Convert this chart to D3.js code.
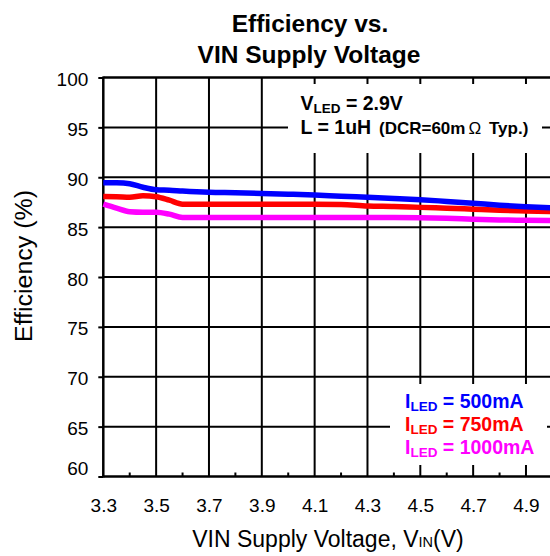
<!DOCTYPE html>
<html>
<head>
<meta charset="utf-8">
<script src="https://cdn.jsdelivr.net/npm/d3@7"></script>
<style>
  html, body { margin: 0; padding: 0; background: #fff; }
  svg { display: block; font-family: "Liberation Sans", Arial, sans-serif; }
</style>
</head>
<body>
<svg id="chart" width="550" height="556"></svg>
<script>
// Supply voltage samples (V)
const vin = [3.3, 3.35, 3.4, 3.45, 3.5, 3.55, 3.6, 3.7, 3.8, 3.9, 4.0, 4.1, 4.2, 4.3, 4.4, 4.5, 4.6, 4.7, 4.8, 4.9, 5.0];
// Efficiency (%) for each LED current
const eff500 = [89.46, 89.45, 89.35, 89.0, 88.75, 88.7, 88.62, 88.5, 88.45, 88.38, 88.3, 88.22, 88.1, 88.0, 87.88, 87.75, 87.58, 87.4, 87.2, 87.05, 86.93];
const eff750 = [88.06, 88.05, 88.0, 88.15, 88.05, 87.7, 87.3, 87.3, 87.3, 87.3, 87.3, 87.3, 87.28, 87.12, 87.07, 86.98, 86.9, 86.8, 86.7, 86.62, 86.55];
const eff1000 = [87.3, 86.9, 86.55, 86.5, 86.5, 86.3, 85.97, 85.97, 85.97, 85.97, 85.97, 85.97, 85.97, 85.97, 85.97, 85.95, 85.9, 85.8, 85.72, 85.68, 85.65];

const seriesNames = ["500mA", "750mA", "1000mA"];
const seriesColors = ["#0000ff", "#ff0000", "#ff00ff"];

const xTicks = [3.3, 3.5, 3.7, 3.9, 4.1, 4.3, 4.5, 4.7, 4.9];
const xMinorTicks = [3.4, 3.6, 3.8, 4.0, 4.2, 4.4, 4.6, 4.8];
const yTicks = [60, 65, 70, 75, 80, 85, 90, 95, 100];

const svg = d3.select("#chart");

const x = d3.scaleLinear().domain([3.3, 5.0]).range([103.3, 552.4]);
const y = d3.scaleLinear().domain([60, 100]).range([476.5, 77.5]);

// Title
const title = svg.append("text").attr("text-anchor", "middle")
  .attr("font-weight", "bold").attr("font-size", 24.5).attr("fill", "#000");
title.append("tspan").attr("x", 310).attr("y", 32).text("Efficiency vs.");
title.append("tspan").attr("x", 309).attr("y", 63).text("VIN Supply Voltage");

// Grid
const grid = svg.append("g").attr("stroke", "#000").attr("stroke-width", 2);
grid.selectAll("line.h").data(yTicks.filter(d => d > 60 && d < 100)).join("line")
  .attr("x1", x(3.3)).attr("x2", x(5.0))
  .attr("y1", d => y(d)).attr("y2", d => y(d));
grid.selectAll("line.v").data(xTicks.filter(d => d > 3.3)).join("line")
  .attr("x1", d => x(d)).attr("x2", d => x(d))
  .attr("y1", y(100)).attr("y2", y(60));

// Minor ticks on the bottom axis
grid.selectAll("line.m").data(xMinorTicks).join("line")
  .attr("x1", d => x(d)).attr("x2", d => x(d))
  .attr("y1", y(60)).attr("y2", y(60) - 4);

// Axes / frame
const yAxis = d3.axisLeft(y).tickValues(yTicks).tickSize(5).tickFormat(d3.format("d"));
const yG = svg.append("g").attr("transform", `translate(${x(3.3)},0)`).call(yAxis);
yG.select(".domain").remove();
yG.selectAll(".tick line").attr("stroke", "#000").attr("stroke-width", 2);
yG.selectAll(".tick text").attr("font-size", 19).attr("font-family", "Liberation Sans, Arial, sans-serif")
  .attr("x", -15).attr("fill", "#000")
  .attr("y", d => d === 60 ? -8 : 2);

const xAxis = d3.axisBottom(x).tickValues(xTicks).tickSize(0).tickFormat(d3.format(".1f"));
const xG = svg.append("g").attr("transform", `translate(0,${y(60)})`).call(xAxis);
xG.select(".domain").remove();
xG.selectAll(".tick text").attr("font-size", 19).attr("font-family", "Liberation Sans, Arial, sans-serif")
  .attr("y", 22.5).attr("dy", "0.71em").attr("fill", "#000");

svg.append("line").attr("x1", x(3.3)).attr("x2", x(3.3)).attr("y1", y(100) - 1).attr("y2", y(60) + 1)
  .attr("stroke", "#000").attr("stroke-width", 2.5);
svg.append("line").attr("x1", x(3.3)).attr("x2", x(5.0)).attr("y1", y(60)).attr("y2", y(60))
  .attr("stroke", "#000").attr("stroke-width", 2.5);
svg.append("line").attr("x1", x(3.3)).attr("x2", x(5.0)).attr("y1", y(100)).attr("y2", y(100))
  .attr("stroke", "#000").attr("stroke-width", 2.5);

// Annotation panel
svg.append("rect").attr("x", 288).attr("y", 84).attr("width", 254).attr("height", 69).attr("fill", "#fff");
const note1 = svg.append("text").attr("x", 300.5).attr("y", 110).attr("font-weight", "bold").attr("font-size", 19.5);
note1.append("tspan").text("V");
note1.append("tspan").attr("font-size", 13.5).attr("dy", 3).text("LED");
note1.append("tspan").attr("dy", -3).text(" = 2.9V");
const note2 = svg.append("text").attr("y", 134).attr("font-weight", "bold").attr("font-size", 19.5);
note2.append("tspan").attr("x", 300.5).text("L = 1uH");
note2.append("tspan").attr("x", 379).attr("font-size", 17).text("(DCR=60m");
note2.append("tspan").attr("x", 468.5).attr("font-size", 17).attr("font-weight", "normal").text("Ω");
note2.append("tspan").attr("x", 489).attr("font-size", 17).text("Typ.)");

// Curves
const line = d3.line().x(d => x(d[0])).y(d => y(d[1])).curve(d3.curveMonotoneX);
const series = [eff1000, eff750, eff500];
const colorsDrawn = [seriesColors[2], seriesColors[1], seriesColors[0]];
svg.append("g").selectAll("path").data(series).join("path")
  .attr("d", s => line(vin.map((v, i) => [v, s[i]])))
  .attr("fill", "none")
  .attr("stroke", (s, i) => colorsDrawn[i])
  .attr("stroke-width", 5.5)
  .attr("stroke-linejoin", "round");

// Legend
svg.append("rect").attr("x", 390).attr("y", 384).attr("width", 157).attr("height", 81).attr("fill", "#fff");
const legend = svg.append("g");
seriesNames.forEach((name, i) => {
  const t = legend.append("text").attr("x", 405).attr("y", 407.5 + i * 23.2)
    .attr("font-weight", "bold").attr("font-size", 19.5).attr("fill", seriesColors[i]);
  t.append("tspan").text("I");
  t.append("tspan").attr("font-size", 13.5).attr("dy", 3).text("LED");
  t.append("tspan").attr("dy", -3).text(" = " + name);
});

// Axis titles
svg.append("text").attr("transform", "translate(32,266) rotate(-90)")
  .attr("text-anchor", "middle").attr("font-size", 23).attr("fill", "#000")
  .attr("textLength", 152).attr("lengthAdjust", "spacingAndGlyphs")
  .text("Efficiency (%)");

const xt = svg.append("text").attr("x", 328).attr("y", 547).attr("text-anchor", "middle")
  .attr("font-size", 23).attr("fill", "#000");
xt.append("tspan").text("VIN Supply Voltage, V");
xt.append("tspan").attr("font-size", 14.5).text("IN");
xt.append("tspan").text("(V)");
</script>
</body>
</html>
